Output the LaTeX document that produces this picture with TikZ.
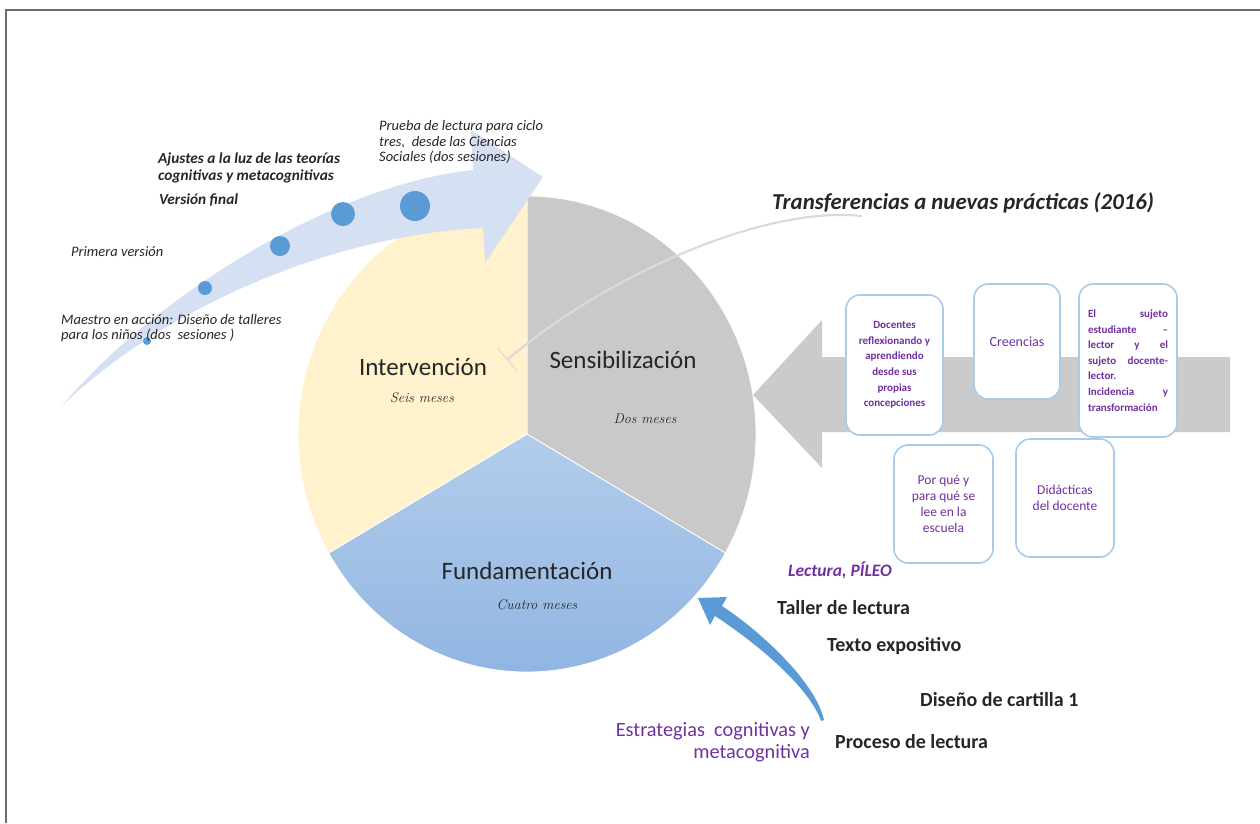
\documentclass[tikz,border=0pt]{standalone}
\usepackage{fontspec}
\newfontfamily\carl{Carlito}
\usetikzlibrary{arrows.meta}
\definecolor{frameg}{HTML}{6E6E6E}
\definecolor{pieyel}{HTML}{FFF2CC}
\definecolor{piegray}{HTML}{C9C9C9}
\definecolor{pieblueT}{HTML}{B3CDEB}
\definecolor{pieblueB}{HTML}{8CB2E1}
\definecolor{flowblue}{HTML}{D5E1F2}
\definecolor{dotblue}{HTML}{5B9BD5}
\definecolor{boxline}{HTML}{A9CBEA}
\definecolor{violet}{HTML}{7030A0}
\definecolor{bandgray}{HTML}{CBCBCB}
\definecolor{txt}{HTML}{262626}
\definecolor{linkgray}{HTML}{DADADA}
\begin{document}
\begin{tikzpicture}[x=1pt,y=-1pt,
  every node/.style={inner sep=0pt, text=txt},
  phase/.style={font=\carl\fontsize{25}{30}\selectfont, text=black!85},
  span/.style={font=\itshape\fontsize{14}{16}\selectfont, text=black!85},
  note/.style={font=\carl\itshape\fontsize{14.5}{15.5}\selectfont, align=left},
  notebold/.style={font=\carl\bfseries\itshape\fontsize{15.3}{17}\selectfont, align=left},
  topic/.style={font=\carl\bfseries\fontsize{20}{23}\selectfont},
  dot/.style={circle, fill=dotblue},
  card/.style={draw=boxline, line width=1.6pt, fill=white, rounded corners=14pt, text=violet, align=center},
]
\useasboundingbox (0,0) rectangle (1260,823);

% frame
\draw[frameg, line width=1.8pt] (6,823) -- (6,10) -- (1260,10);

% wide grey arrow pointing to the cycle
\fill[bandgray] (1230,357) -- (822,357) -- (822,320) -- (753,395) -- (822,468) -- (822,432) -- (1230,432) -- cycle;

% cycle of three phases
\coordinate (c) at (527,434);
\fill[piegray, draw=white, line width=0.8pt] (c) -- ++(-90:229 and 238)
  arc[start angle=-90, end angle=30, x radius=229, y radius=238] -- cycle;
\shade[top color=pieblueT, bottom color=pieblueB, draw=white, line width=0.8pt] (c) -- ++(30:229 and 238)
  arc[start angle=30, end angle=150, x radius=229, y radius=238] -- cycle;
\fill[pieyel, draw=white, line width=0.8pt] (c) -- ++(150:229 and 238)
  arc[start angle=150, end angle=270, x radius=229, y radius=238] -- cycle;

\node[phase] (interv) at (423,367) {Intervención};
\node[span] (intervT) at (422,398) {Seis meses};
\node[phase] (sensib) at (623,360) {Sensibilización};
\node[span] (sensibT) at (645,419) {Dos meses};
\node[phase] (fund) at (527,571) {Fundamentación};
\node[span] (fundT) at (537,605) {Cuatro meses};

% transfer heading and its link into the cycle
\node[font=\carl\bfseries\itshape\fontsize{22.8}{27}\selectfont, anchor=west] (transf) at (772,203)
  {Transferencias a nuevas prácticas (2016)};
\coordinate (transfStart) at (862,216);
\coordinate (transfEnd) at (507,360);
\draw[linkgray, line width=2.2pt, -{Bar[width=30pt,line width=1.2pt]}]
  (transfStart) .. controls (760,205) and (600,280) .. (transfEnd);

% curved progress arrow
\fill[flowblue] (61,407) .. controls (150,300) and (330,185) .. (473,170) -- (471,130) -- (543,177)
  -- (485,263) -- (483,228) .. controls (330,235) and (160,310) .. (61,407) -- cycle;
\node[dot, minimum size=8pt] (d1) at (147,341) {};
\node[dot, minimum size=14pt] (d2) at (205,288) {};
\node[dot, minimum size=20pt] (d3) at (280,246) {};
\node[dot, minimum size=24pt] (d4) at (343,214) {};
\node[dot, minimum size=30pt] (d5) at (415,206) {};

\node[note, anchor=west] (prueba) at (379,142) {Prueba de lectura para ciclo\\tres,\ \ desde las Ciencias\\Sociales (dos sesiones)};
\node[notebold, anchor=west] (ajustes) at (158,168) {Ajustes a la luz de las teorías\\cognitivas y metacognitivas};
\node[notebold, anchor=west] (final) at (159,200) {Versión final};
\node[note, anchor=west] (primera) at (71,252) {Primera versión};
\node[note, anchor=west] (maestro) at (61,328) {Maestro en acción: Diseño de talleres\\para los niños (dos\ \ sesiones )};

% topic cards
\node[card, font=\carl\bfseries\fontsize{11}{15.6}\selectfont, minimum width=97pt, minimum height=140pt]
  (docentes) at (894.5,365) {Docentes\\reflexionando y\\aprendiendo\\desde sus\\propias\\concepciones};
\node[card, font=\carl\fontsize{14}{17}\selectfont, minimum width=86pt, minimum height=115pt]
  (creencias) at (1017,341.5) {Creencias};
\node[card, font=\carl\bfseries\fontsize{11}{15.6}\selectfont, minimum width=98pt, minimum height=153pt,
  text width=80pt, align=justify] (sujeto) at (1128,360.5)
  {El sujeto\linebreak estudiante –\linebreak lector y el\linebreak sujeto docente-\linebreak lector.\\
   Incidencia y\linebreak transformación};
\node[card, font=\carl\fontsize{13.5}{16}\selectfont, minimum width=99pt, minimum height=118pt]
  (porque) at (943.5,504) {Por qué y\\para qué se\\lee en la\\escuela};
\node[card, font=\carl\fontsize{13.5}{16}\selectfont, minimum width=98pt, minimum height=118pt]
  (didact) at (1065,498) {Didácticas\\del docente};

% strategies arrow and list
\fill[dotblue] (824,720) .. controls (815,680) and (756,628) .. (722,606) -- (727,597) -- (698,598)
  -- (710,625) -- (715,616) .. controls (749,638) and (808,684) .. (821,721) -- cycle;
\node[font=\carl\bfseries\itshape\fontsize{17.5}{20}\selectfont, text=violet, anchor=west] (pileo) at (788,570) {Lectura, PÍLEO};
\node[topic, anchor=west] (taller) at (777,608) {Taller de lectura};
\node[topic, anchor=west] (texto) at (827,646) {Texto expositivo};
\node[topic, anchor=west] (cartilla) at (920,700) {Diseño de cartilla 1};
\node[topic, anchor=west] (proceso) at (835,742) {Proceso de lectura};
\node[font=\carl\fontsize{20.3}{21.5}\selectfont, text=violet, align=right, anchor=east] (estrat) at (810,742)
  {Estrategias\ \ cognitivas y\\metacognitiva};
\end{tikzpicture}
\end{document}
